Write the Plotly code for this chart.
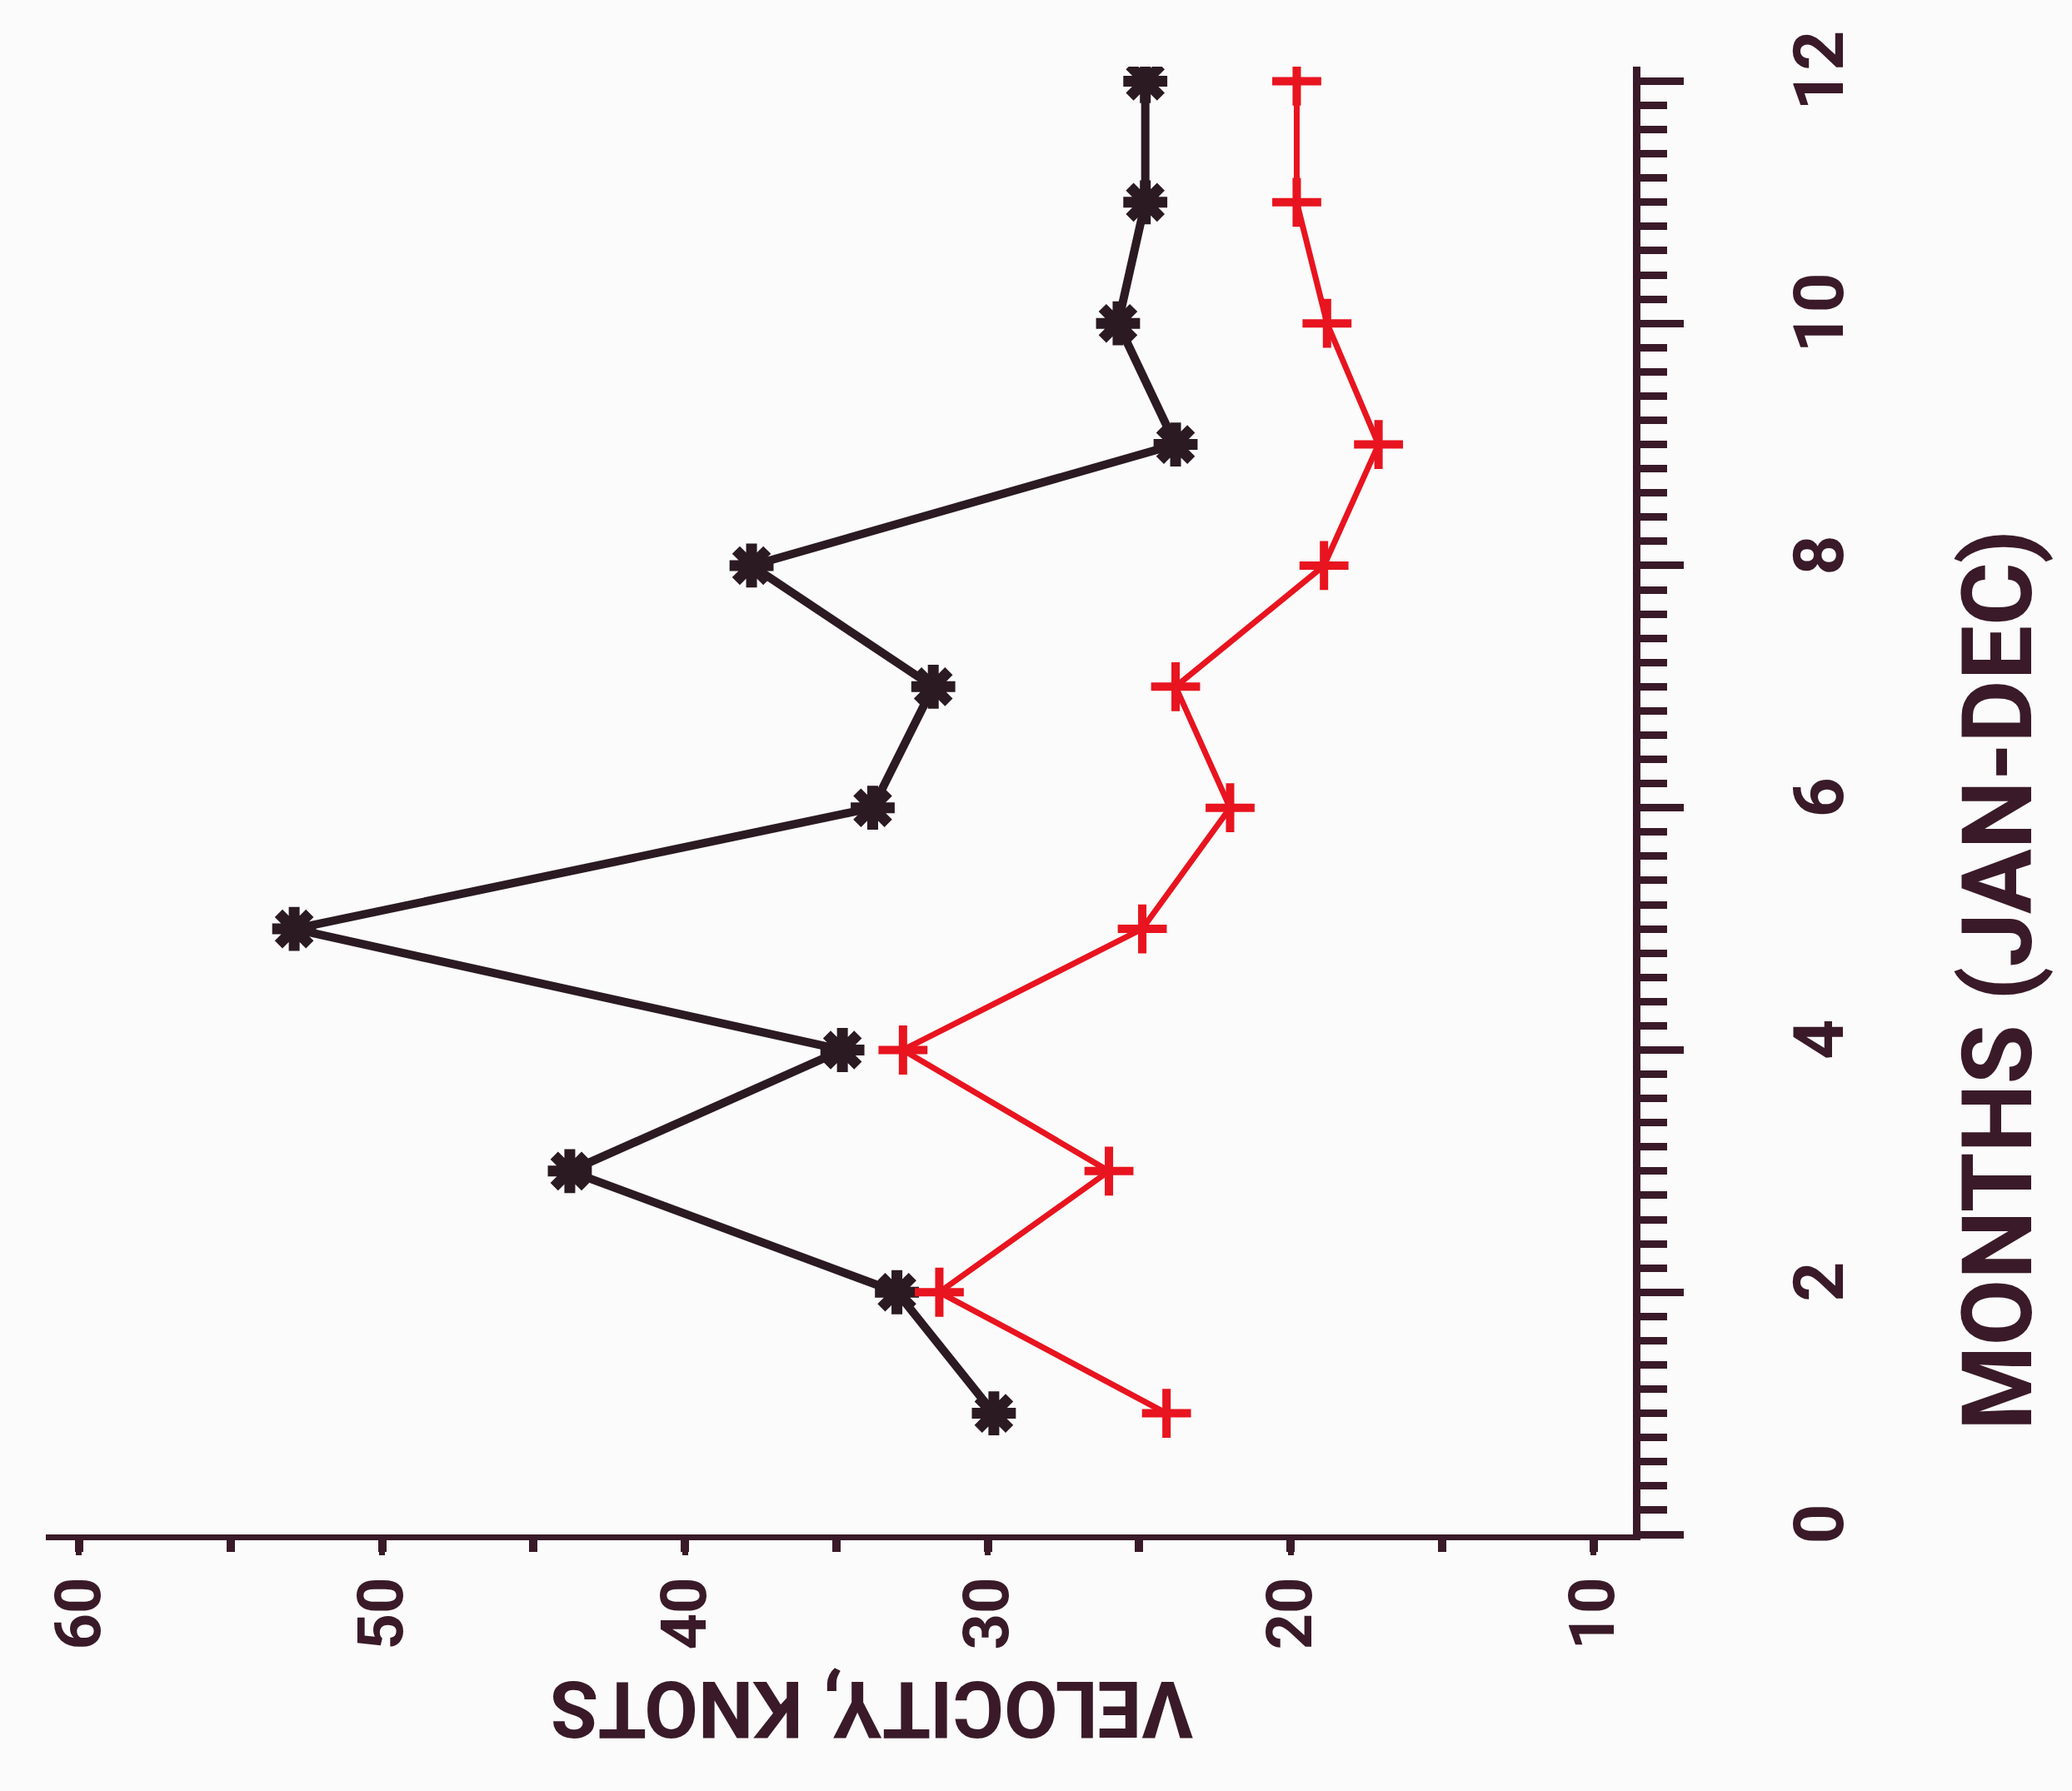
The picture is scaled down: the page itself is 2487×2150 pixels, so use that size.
import plotly.graph_objects as go

# Monthly mean velocities (knots), Jan-Dec
months = [1, 2, 3, 4, 5, 6, 7, 8, 9, 10, 11, 12]
velocity_black = [29.8, 33.0, 43.8, 34.8, 52.9, 33.8, 31.8, 37.8, 23.8, 25.7, 24.8, 24.8]
velocity_red = [24.1, 31.6, 26.0, 32.8, 24.9, 22.0, 23.8, 18.9, 17.1, 18.8, 19.8, 19.8]

velocity_ticks = [10, 20, 30, 40, 50, 60]
month_ticks = [0, 2, 4, 6, 8, 10, 12]

W, H = 2487, 2150
L, R, T, B = 55, 527, 80, 308

INK = "#3a1a28"
BLACK_LINE = "#2b1a22"
RED_LINE = "#e8141f"
BG = "#fafbfa"
FONT = "Roboto, Liberation Sans, sans-serif"


def px_to_paper(px, py):
    """Convert page pixel position to paper coordinates of the plot area."""
    return (px - L) / (W - L - R), 1 - (py - T) / (H - T - B)


fig = go.Figure()

fig.add_trace(go.Scatter(
    x=velocity_black, y=months, mode="lines+markers",
    line=dict(color=BLACK_LINE, width=10),
    marker=dict(symbol="asterisk-open", size=44, color=BLACK_LINE,
                line=dict(color=BLACK_LINE, width=13)),
    showlegend=False,
))

fig.add_trace(go.Scatter(
    x=velocity_red, y=months, mode="lines+markers",
    line=dict(color=RED_LINE, width=7),
    marker=dict(symbol="cross-thin-open", size=42, color=RED_LINE,
                line=dict(color=RED_LINE, width=10)),
    showlegend=False,
))

fig.update_xaxes(
    range=[61.1, 8.7],
    tickvals=velocity_ticks,
    ticktext=[str(v) for v in velocity_ticks],
    tickangle=-90,
    ticks="outside", ticklen=18, tickwidth=7, tickcolor=INK,
    minor=dict(dtick=5, tick0=0, ticks="outside", ticklen=14, tickwidth=10, tickcolor=INK),
    showline=True, linecolor=INK, linewidth=7,
    showgrid=False, zeroline=False,
    tickfont=dict(family=FONT, size=76, color=INK, weight="bold"),
    ticklabelstandoff=-4,
    automargin=False,
)

fig.update_yaxes(
    range=[0, 12.12],
    side="right",
    tickvals=month_ticks,
    ticktext=[str(m) for m in month_ticks],
    tickangle=-90,
    ticks="outside", ticklen=52, tickwidth=9, tickcolor=INK,
    minor=dict(dtick=0.2, tick0=0, ticks="outside", ticklen=32, tickwidth=9, tickcolor=INK),
    showline=True, linecolor=INK, linewidth=9,
    showgrid=False, zeroline=False,
    tickfont=dict(family=FONT, size=84, color=INK, weight="bold"),
    ticklabelstandoff=90,
    automargin=False,
)

vx, vy = px_to_paper(1047, 2051)
mx, my = px_to_paper(2398, 1177)

fig.add_annotation(
    x=vx, y=vy, xref="paper", yref="paper", showarrow=False,
    xanchor="center", yanchor="middle",
    text="VELOCITY, KNOTS", textangle=180,
    font=dict(family=FONT, size=94, color=INK, weight="bold"),
)
fig.add_annotation(
    x=mx, y=my, xref="paper", yref="paper", showarrow=False,
    xanchor="center", yanchor="middle",
    text="MONTHS (JAN-DEC)", textangle=-90,
    font=dict(family=FONT, size=116, color=INK, weight="bold"),
)

fig.update_layout(
    width=W, height=H,
    margin=dict(l=L, r=R, t=T, b=B, autoexpand=False),
    paper_bgcolor=BG, plot_bgcolor=BG,
)

fig.write_html("out.html")
